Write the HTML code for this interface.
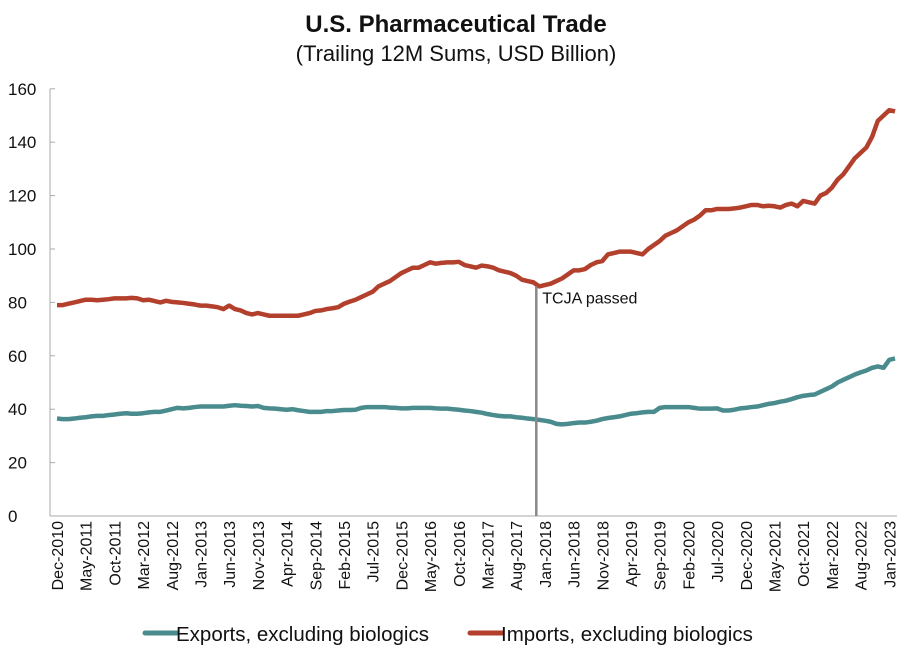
<!DOCTYPE html>
<html><head><meta charset="utf-8"><style>
body{margin:0;background:#fff;font-family:"Liberation Sans",sans-serif}
svg text{font-family:"Liberation Sans",sans-serif;fill:#111}
</style></head><body>
<svg id="c" width="912" height="652">
<text x="456" y="32" text-anchor="middle" font-size="24" font-weight="bold">U.S. Pharmaceutical Trade</text>
<text x="456" y="61" text-anchor="middle" font-size="22">(Trailing 12M Sums, USD Billion)</text>
</svg>
<script>
const yTicks=[0,20,40,60,80,100,120,140,160];
const xLabels=["Dec-2010","May-2011","Oct-2011","Mar-2012","Aug-2012","Jan-2013","Jun-2013","Nov-2013","Apr-2014","Sep-2014","Feb-2015","Jul-2015","Dec-2015","May-2016","Oct-2016","Mar-2017","Aug-2017","Jan-2018","Jun-2018","Nov-2018","Apr-2019","Sep-2019","Feb-2020","Jul-2020","Dec-2020","May-2021","Oct-2021","Mar-2022","Aug-2022","Jan-2023"];
const imports=[79,
79,79.5,80,80.5,81,81,80.8,81,81.2,81.5,81.5,81.5,
81.7,81.5,80.8,81,80.5,80,80.6,80.2,80,79.8,79.5,79.2,
78.8,78.8,78.5,78.2,77.5,78.8,77.5,77,76,75.5,76,75.5,
75,75,75,75,75,75,75.5,76,76.8,77,77.5,77.8,
78.2,79.5,80.3,81,82,83,84,86,87,88,89.5,91,
92,93,93,94,95,94.5,94.8,95,95,95.2,94,93.5,
93,93.8,93.5,93,92,91.5,91,90,88.5,88,87.5,86,
86.5,87,88,89,90.5,92,92,92.5,94,95,95.5,98,
98.5,99,99,99,98.5,98,100,101.5,103,105,106,107,
108.5,110,111,112.5,114.5,114.5,115,115,115,115.2,115.5,116,
116.5,116.5,116,116.2,116,115.5,116.5,117,116,118,117.5,117,
120,121,123,126,128,131,134,136,138,142,148,150,
152,151.5];
const exportsV=[36.5,
36.3,36.3,36.5,36.8,37,37.3,37.5,37.5,37.8,38,38.3,38.5,
38.3,38.3,38.5,38.8,39,39,39.5,40,40.5,40.3,40.5,40.8,
41,41,41,41,41,41.3,41.5,41.3,41.2,41,41.2,40.5,
40.3,40.2,40,39.8,40,39.6,39.3,39,39,39,39.3,39.3,
39.5,39.7,39.7,39.8,40.5,40.8,40.8,40.8,40.8,40.6,40.5,40.3,
40.3,40.5,40.5,40.5,40.5,40.3,40.2,40.2,40,39.8,39.5,39.3,
39,38.7,38.2,37.8,37.5,37.3,37.3,37,36.8,36.5,36.3,36,
35.7,35.3,34.5,34.3,34.5,34.8,35,35,35.3,35.7,36.3,36.7,
37,37.3,37.8,38.3,38.5,38.8,39,39,40.5,40.8,40.8,40.8,
40.8,40.8,40.5,40.2,40.2,40.2,40.3,39.5,39.5,39.8,40.3,40.5,
40.8,41,41.5,42,42.3,42.8,43.2,43.8,44.5,45,45.3,45.5,
46.5,47.5,48.5,50,51,52,53,53.8,54.5,55.5,56,55.5,
58.5,59];
const tcjaIndex=83.5;
const NS="http://www.w3.org/2000/svg";
const svg=document.getElementById('c');
const x=i=>57+i*5.74, y=v=>516-v*2.67;
function mk(t,a){const e=document.createElementNS(NS,t);for(const k in a)e.setAttribute(k,a[k]);svg.appendChild(e);return e;}
let ax=mk('line',{x1:50,y1:89,x2:50,y2:516,stroke:'#aaa','stroke-width':1});


let bx=mk('line',{x1:50,y1:516,x2:897,y2:516,stroke:'#aaa','stroke-width':1});


yTicks.forEach(v=>{
 const t=mk('text',{x:8,y:y(v)+6,'font-size':17});t.textContent=v;
 
 
 const tk=mk('line',{x1:50,y1:y(v),x2:55,y2:y(v),stroke:'#aaa'});
 
 
});
xLabels.forEach((l,k)=>{
 const xx=x(k*5)+6;
 const t=mk('text',{x:0,y:0,'font-size':16,'text-anchor':'end',transform:`translate(${xx},521) rotate(-90)`});t.textContent=l;
 
 
});
function line(arr,col,name){
 const p=mk('polyline',{points:arr.map((v,i)=>x(i)+','+y(v)).join(' '),fill:'none',stroke:col,'stroke-width':4.5,'stroke-linejoin':'round'});
 
 
}
line(exportsV,'#4a8b8d','exports-line');
line(imports,'#b3402c','imports-line');
const tx=x(tcjaIndex);
const tl=mk('line',{x1:tx,y1:y(imports[84]),x2:tx,y2:516,stroke:'#888','stroke-width':2.5});


const tt=mk('text',{x:tx+6,y:y(imports[84])+17,'font-size':16});tt.textContent='TCJA passed';


[[145,'#4a8b8d','Exports, excluding biologics','legend-exports'],[470,'#b3402c','Imports, excluding biologics','legend-imports']].forEach(([lx,c,l,n])=>{
 const g=mk('g',{});
 
 
 const s=document.createElementNS(NS,'line');s.setAttribute('x1',lx);s.setAttribute('x2',lx+32);s.setAttribute('y1',633);s.setAttribute('y2',633);s.setAttribute('stroke',c);s.setAttribute('stroke-width',5);s.setAttribute('stroke-linecap','round');g.appendChild(s);
 const t=document.createElementNS(NS,'text');t.setAttribute('x',lx+31);t.setAttribute('y',641);t.setAttribute('font-size',20.5);t.textContent=l;g.appendChild(t);
});
</script>
</body></html>
